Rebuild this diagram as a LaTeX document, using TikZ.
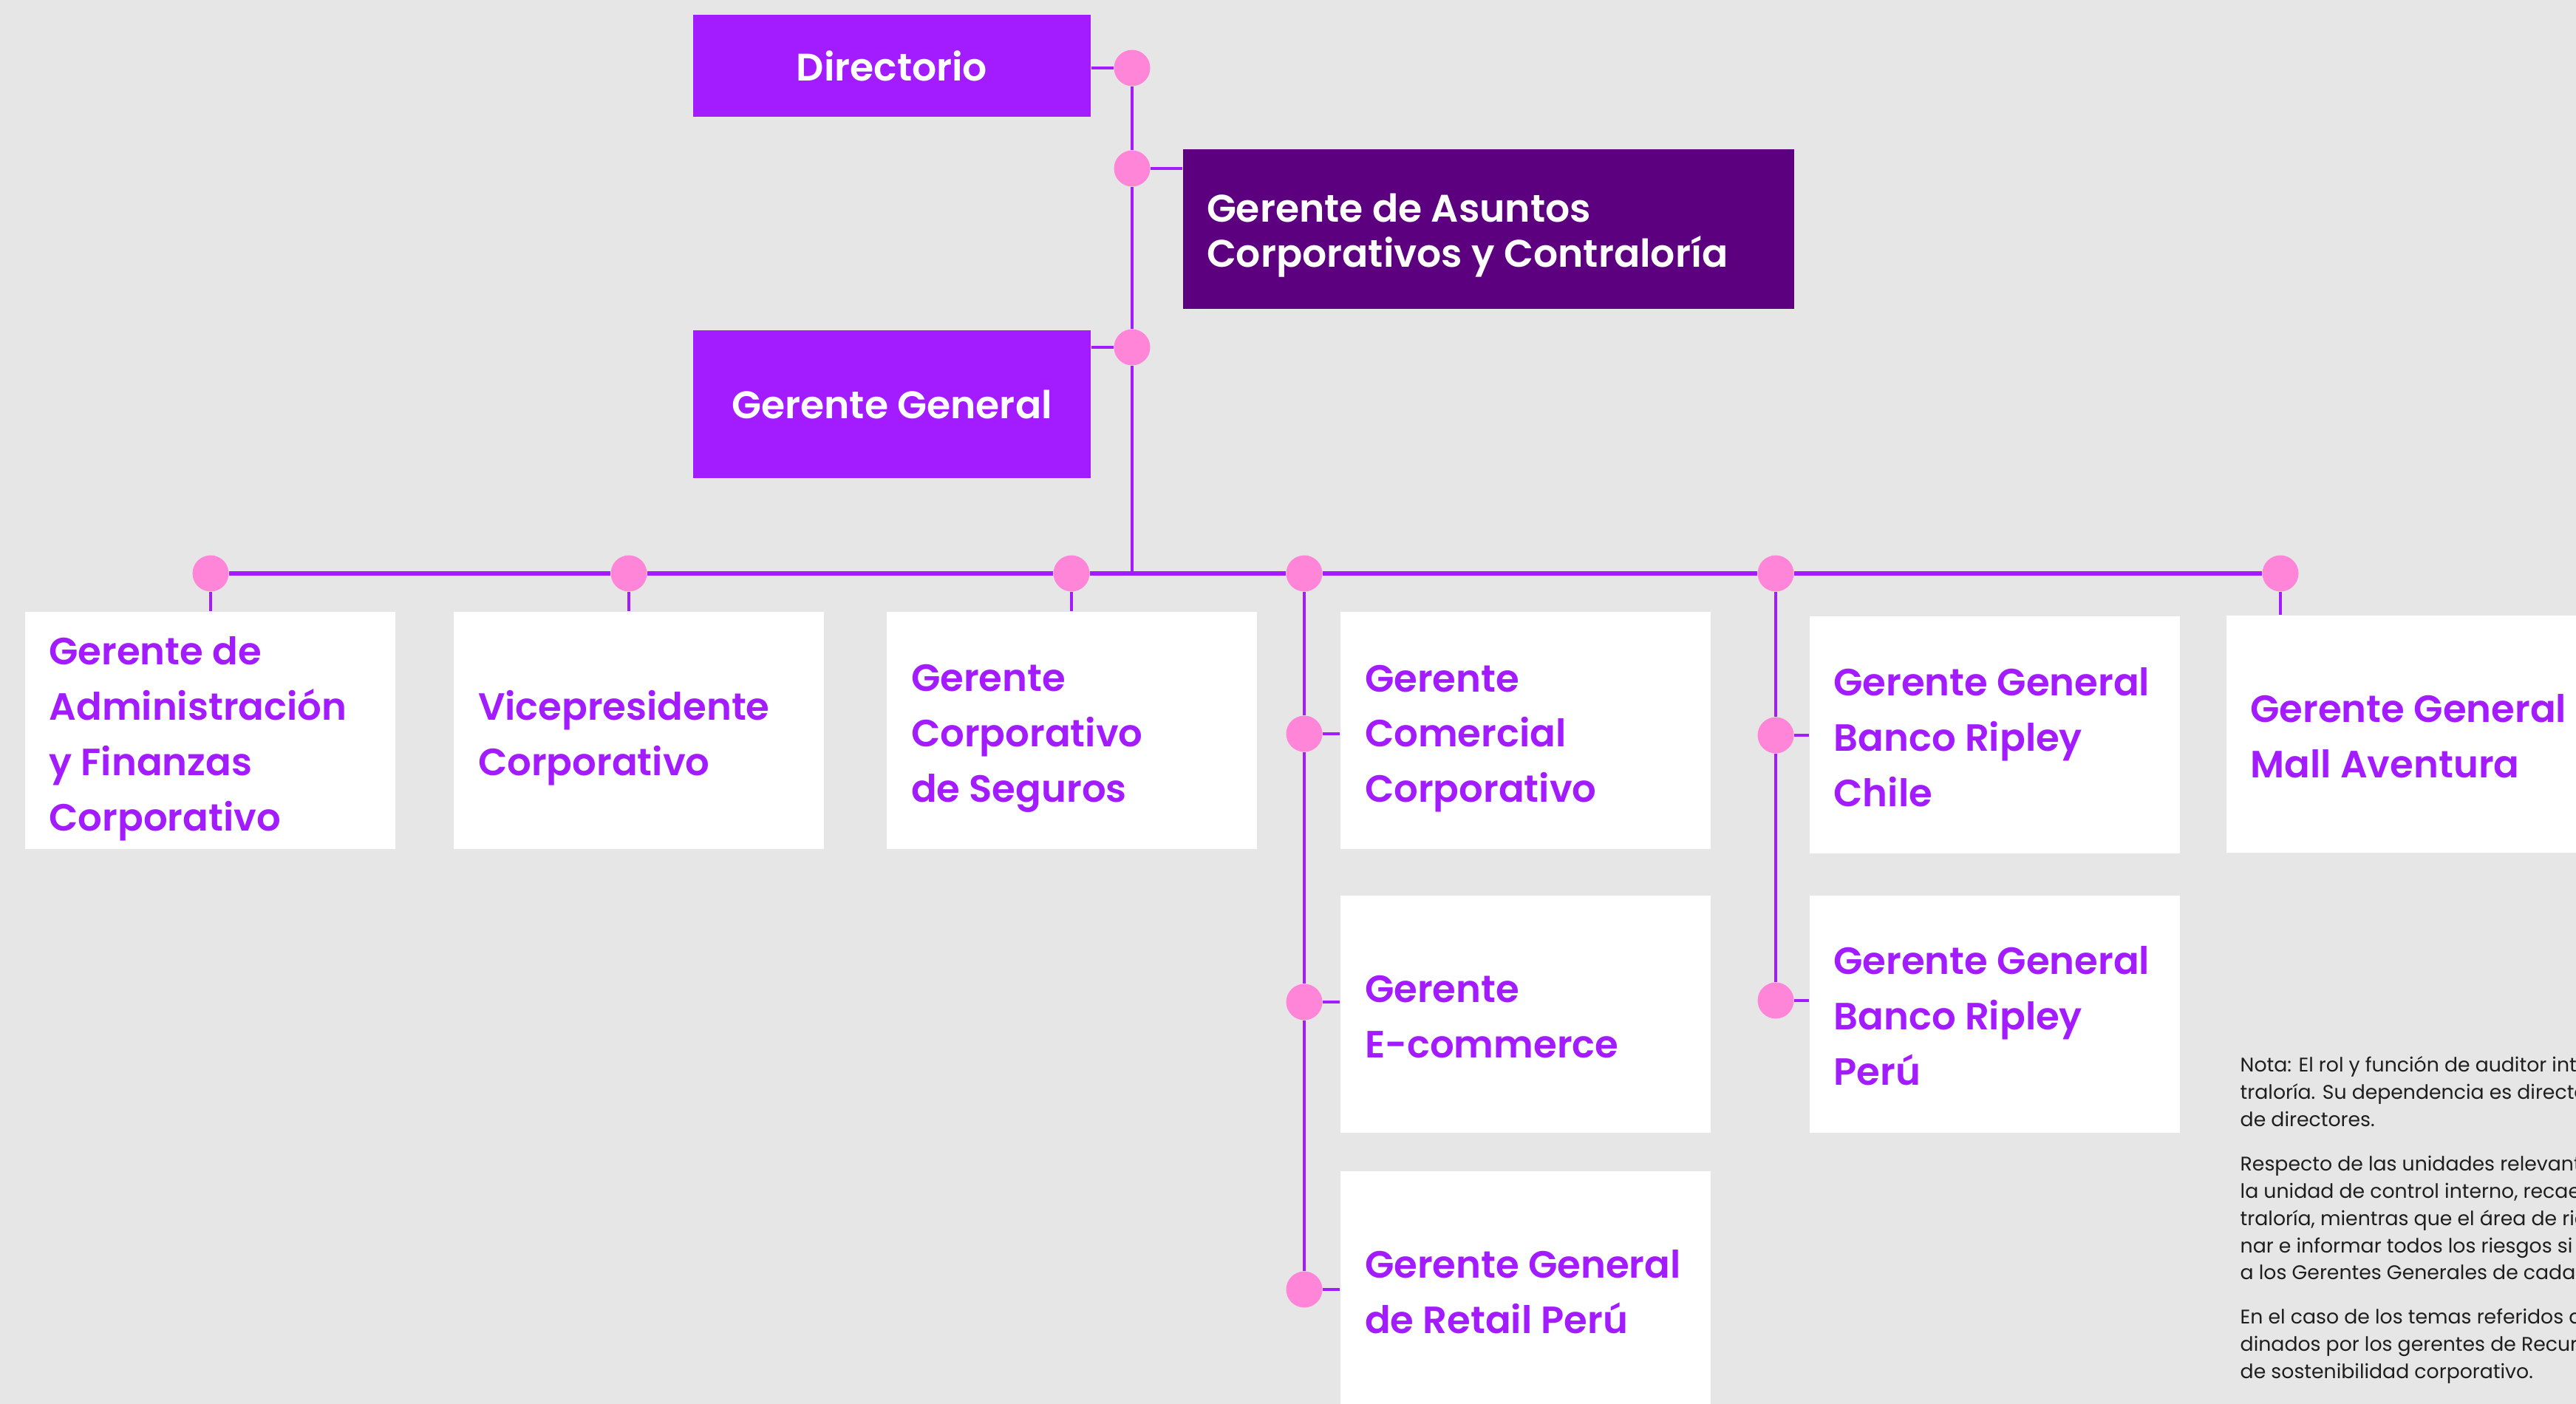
\documentclass[tikz,border=0pt]{standalone}
\usepackage{fontspec}
\setmainfont{Poppins}
\newfontfamily\medfont{Poppins SemiBold}
\definecolor{violeta}{HTML}{A21CFF}
\definecolor{morado}{HTML}{5C007F}
\definecolor{rosa}{HTML}{FF85D8}
\definecolor{fondo}{HTML}{E6E6E6}
\definecolor{tinta}{HTML}{1E1E1E}
\begin{document}
\begin{tikzpicture}[
 caja/.style={fill=white,minimum width=5.01cm,minimum height=3.21cm,inner sep=0pt},
 jefe/.style={fill=violeta,text=white,minimum width=5.38cm,inner sep=0pt,font=\medfont\fontsize{14.8}{21.3}\selectfont},
 cargo/.style={anchor=west,align=left,inner sep=0pt,text=violeta,font=\medfont\fontsize{14.6}{21.3}\selectfont},
 punto/.style={circle,fill=rosa,minimum size=.49cm,inner sep=0pt},
 linea/.style={violeta,line width=1.3pt},
 barra/.style={violeta,line width=1.7pt}]
\fill[fondo](0,0)rectangle(34.86,-19);
\useasboundingbox(0,0)rectangle(34.86,-19);
% direccion
\node[jefe,minimum height=1.38cm](dir) at (12.07,-.89){Directorio};
\node[fill=morado,minimum width=8.27cm,minimum height=2.16cm,inner sep=0pt](asu) at (20.145,-3.1){};
\node[cargo,text=white,font=\medfont\fontsize{14.8}{17.4}\selectfont](tAsu) at ([xshift=.32cm,yshift=-.09cm]asu.west){Gerente de Asuntos\\Corporativos y Contraloría};
\node[jefe,minimum height=2cm](gg) at (12.07,-5.47){Gerente General};
\node[punto](pDir) at (15.32,-.92){};
\node[punto](pAsu) at (15.32,-2.28){};
\node[punto](pGG) at (15.32,-4.7){};
% gerencias
\foreach \x[count=\i] in {2.85,8.51,14.5,17.65,24.03,30.86}
  \node[punto](p\i) at (\x,-7.76){};
\node[caja](b1) at (2.84,-9.885){};
\node[caja](b2) at (8.645,-9.885){};
\node[caja](b3) at (14.505,-9.885){};
\node[caja](bCom) at (20.645,-9.885){};
\node[caja](bChi) at (26.99,-9.945){};
\node[caja](bMall) at (32.63,-9.935){};
\node[caja](bEco) at (20.645,-13.72){};
\node[caja](bPer) at (26.99,-13.72){};
\node[caja](bRet) at (20.645,-17.45){};
\node[punto](pCom) at (17.65,-9.93){};
\node[punto](pEco) at (17.65,-13.56){};
\node[punto](pRet) at (17.65,-17.45){};
\node[punto](pChi) at (24.03,-9.95){};
\node[punto](pPer) at (24.03,-13.54){};
\node[cargo](t1) at ([xshift=.33cm,yshift=-.11cm]b1.west){Gerente de\\Administración\\y Finanzas\\Corporativo};
\node[cargo](t2) at ([xshift=.33cm,yshift=-.1cm]b2.west){Vicepresidente\\Corporativo};
\node[cargo](t3) at ([xshift=.33cm,yshift=-.11cm]b3.west){Gerente\\Corporativo\\de Seguros};
\node[cargo](tCom) at ([xshift=.33cm,yshift=-.11cm]bCom.west){Gerente\\Comercial\\Corporativo};
\node[cargo](tChi) at ([xshift=.33cm,yshift=-.03cm]bChi.west){Gerente General\\Banco Ripley\\Chile};
\node[cargo](tMall) at ([xshift=.33cm,yshift=-.03cm]bMall.west){Gerente General\\Mall Aventura};
\node[cargo](tEco) at ([xshift=.33cm,yshift=-.04cm]bEco.west){Gerente\\E-commerce};
\node[cargo](tPer) at ([xshift=.33cm,yshift=-.03cm]bPer.west){Gerente General\\Banco Ripley\\Perú};
\node[cargo](tRet) at ([xshift=.33cm,yshift=-.03cm]bRet.west){Gerente General\\de Retail Perú};
% lineas
\draw[linea](pDir)--(pAsu)--(pGG)--(pGG|-p3);
\draw[linea](pDir)--(pDir-|dir.east);
\draw[linea](pAsu)--(pAsu-|asu.west);
\draw[linea](pGG)--(pGG-|gg.east);
\draw[barra](p1)--(p2)--(p3)--(p4)--(p5)--(p6);
\foreach \i/\b in {1/b1,2/b2,3/b3,6/bMall}
  \draw[linea](p\i)--(p\i|-\b.north);
\draw[linea](p4)--(pCom)--(pEco)--(pRet);
\draw[linea](p5)--(pChi)--(pPer);
\foreach \p/\b in {pCom/bCom,pEco/bEco,pRet/bRet,pChi/bChi,pPer/bPer}
  \draw[linea](\p)--(\p-|\b.west);
% nota
\node[anchor=north west,align=left,inner sep=0pt,text=tinta,font=\fontsize{7.6}{10.5}\selectfont](nota) at (30.31,-14.29){Nota: El rol y función de auditor int\\traloría. Su dependencia es directa\\de directores.\\[6.5pt]Respecto de las unidades relevant\\la unidad de control interno, recae\\traloría, mientras que el área de rie\\nar e informar todos los riesgos si\\a los Gerentes Generales de cada\\[6.5pt]En el caso de los temas referidos a\\dinados por los gerentes de Recur\\de sostenibilidad corporativo.};
\end{tikzpicture}
\end{document}
